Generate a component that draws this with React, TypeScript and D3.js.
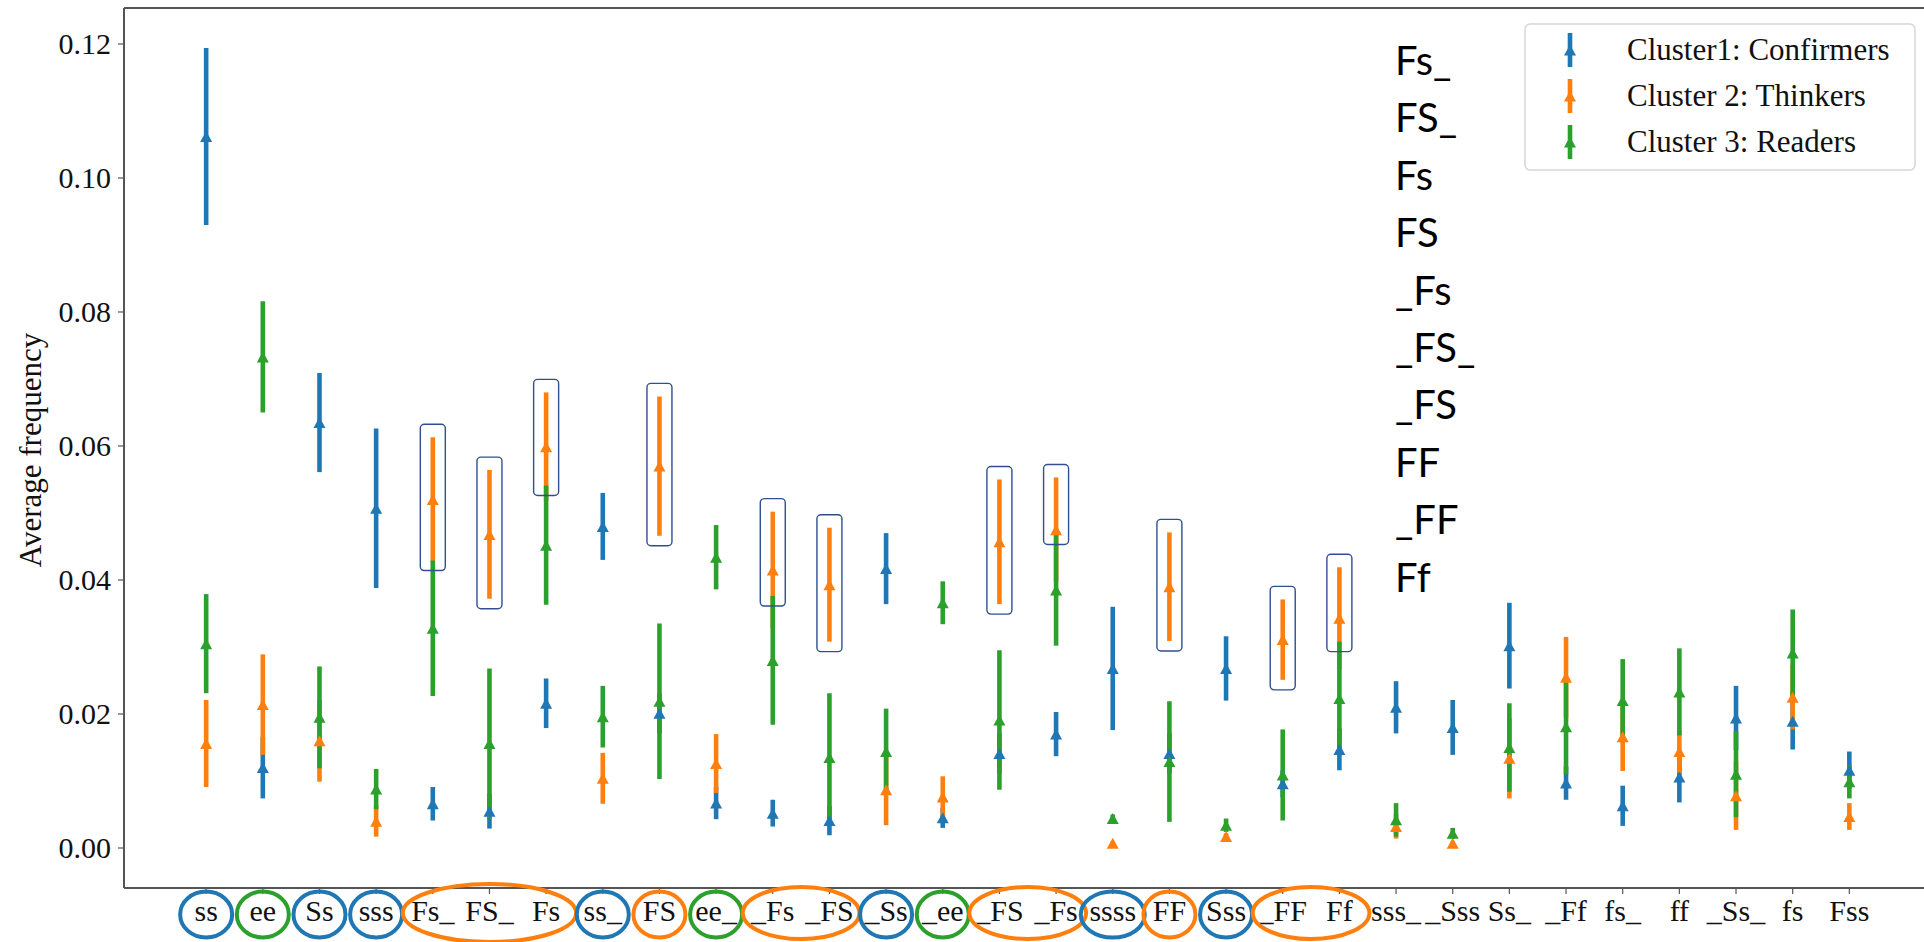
import React from 'react';
import * as d3 from 'd3';

// ---------- data ----------
const categories = ['ss', 'ee', 'Ss', 'sss', 'Fs_', 'FS_', 'Fs', 'ss_', 'FS', 'ee_', '_Fs', '_FS', '_Ss', '_ee', '_FS', '_Fs', 'ssss', 'FF', 'Sss', '_FF', 'Ff', 'sss_', '_Sss', 'Ss_', '_Ff', 'fs_', 'ff', '_Ss_', 'fs', 'Fss'];

const confirmersMean = [0.1062, 0.0120, 0.0635, 0.0507, 0.0066, 0.0055, 0.0216, 0.0480, 0.0201, 0.0067, 0.0052, 0.0041, 0.0417, 0.0045, 0.0141, 0.0170, 0.0268, 0.0141, 0.0268, 0.0096, 0.0147, 0.0210, 0.0180, 0.0302, 0.0097, 0.0063, 0.0106, 0.0194, 0.0189, 0.0116];
const confirmersErr = [0.0132, 0.0046, 0.0074, 0.0119, 0.0025, 0.0026, 0.0037, 0.0050, 0.0030, 0.0024, 0.0020, 0.0022, 0.0053, 0.0015, 0.0030, 0.0033, 0.0092, 0.0030, 0.0048, 0.0020, 0.0031, 0.0039, 0.0041, 0.0064, 0.0025, 0.0030, 0.0038, 0.0048, 0.0042, 0.0028];

const thinkersMean = [0.0156, 0.0214, 0.0160, 0.0040, 0.0520, 0.0468, 0.0599, 0.0104, 0.0570, 0.0126, 0.0415, 0.0393, 0.0087, 0.0076, 0.0457, 0.0475, 0.0007, 0.0390, 0.0017, 0.0311, 0.0343, 0.0032, 0.0007, 0.0134, 0.0255, 0.0166, 0.0144, 0.0078, 0.0225, 0.0047];
const thinkersErr = [0.0065, 0.0075, 0.0061, 0.0023, 0.0093, 0.0096, 0.0081, 0.0038, 0.0104, 0.0044, 0.0087, 0.0085, 0.0053, 0.0031, 0.0093, 0.0078, 0.0003, 0.0081, 0.0005, 0.0060, 0.0076, 0.0018, 0.0003, 0.0060, 0.0060, 0.0051, 0.0032, 0.0051, 0.0048, 0.0020];

const readersMean = [0.0305, 0.0733, 0.0195, 0.0088, 0.0328, 0.0156, 0.0452, 0.0196, 0.0219, 0.0434, 0.0280, 0.0135, 0.0144, 0.0366, 0.0191, 0.0385, 0.0044, 0.0129, 0.0034, 0.0109, 0.0223, 0.0042, 0.0022, 0.0150, 0.0181, 0.0220, 0.0233, 0.0110, 0.0291, 0.0099];
const readersErr = [0.0074, 0.0083, 0.0076, 0.0030, 0.0101, 0.0112, 0.0089, 0.0046, 0.0116, 0.0048, 0.0096, 0.0096, 0.0064, 0.0032, 0.0104, 0.0083, 0.0006, 0.0090, 0.0010, 0.0068, 0.0085, 0.0025, 0.0008, 0.0066, 0.0071, 0.0062, 0.0065, 0.0064, 0.0065, 0.0025];

const seriesNames = ['Cluster1: Confirmers', 'Cluster 2: Thinkers', 'Cluster 3: Readers'];
const seriesColors = ['#1f77b4', '#ff7f0e', '#2ca02c'];

const yTicks = [0.0, 0.02, 0.04, 0.06, 0.08, 0.10, 0.12];
const yLabel = 'Average frequency';

// categories whose Thinkers bar is boxed
const boxedCategories = [4, 5, 6, 8, 10, 11, 14, 15, 17, 19, 20];

// circled tick labels: [first index, last index, colour index]
const circleFirst = [0, 1, 2, 3, 4, 7, 8, 9, 10, 12, 13, 14, 16, 17, 18, 19];
const circleLast = [0, 1, 2, 3, 6, 7, 8, 9, 11, 12, 13, 15, 16, 17, 18, 20];
const circleColor = [0, 2, 0, 0, 1, 0, 1, 2, 1, 0, 2, 1, 0, 1, 0, 1];

const sideNotes = ['Fs_', 'FS_', 'Fs', 'FS', '_Fs', '_FS_', '_FS', 'FF', '_FF', 'Ff'];

// ---------- chart ----------
const W = 1924;
const H = 942;
const SERIF = '"Liberation Serif", "Times New Roman", serif';

export default function App() {
  const x = d3.scaleLinear().domain([-1.45, 30.45]).range([124, 1931.5]);
  const y = d3.scaleLinear().domain([-0.00597, 0.12537]).range([888, 8]);
  const step = x(1) - x(0);
  const fmt = d3.format('.2f');

  const series = [
    { mean: confirmersMean, err: confirmersErr, color: seriesColors[0] },
    { mean: thinkersMean, err: thinkersErr, color: seriesColors[1] },
    { mean: readersMean, err: readersErr, color: seriesColors[2] },
  ];

  const tri = 'M0,-5.5L6,5.5L-6,5.5Z';
  const plotLeft = x.range()[0];
  const plotRight = x.range()[1];
  const plotTop = y.range()[1];
  const plotBottom = y.range()[0];

  return (
    <svg width={W} height={H} style={{ position: 'absolute', left: 0, top: 0, background: '#fff' }}
      xmlns="http://www.w3.org/2000/svg">
      <rect x={0} y={0} width={W} height={H} fill="#fff" />

      {/* error bars: all bar lines first (blue, orange, green) */}
      {series.map((s, si) => (
        <g key={'bars' + si}>
          {categories.map((c, i) => (
            <line key={i} x1={x(i)} x2={x(i)} y1={y(s.mean[i] + s.err[i])} y2={y(s.mean[i] - s.err[i])}
              stroke={s.color} strokeWidth={4.6} />
          ))}
        </g>
      ))}
      {/* markers above all bar lines */}
      {series.map((s, si) => (
        <g key={'marks' + si}>
          {categories.map((c, i) => (
            <path key={i} d={tri} transform={`translate(${x(i)},${y(s.mean[i])})`} fill={s.color} />
          ))}
        </g>
      ))}

      {/* spines */}
      <g stroke="#555" strokeWidth={2} fill="none">
        <line x1={plotLeft} x2={plotLeft} y1={plotTop} y2={plotBottom} />
        <line x1={plotLeft} x2={plotRight} y1={plotTop} y2={plotTop} />
        <line x1={plotLeft} x2={plotRight} y1={plotBottom} y2={plotBottom} />
        <line x1={plotRight} x2={plotRight} y1={plotTop} y2={plotBottom} />
      </g>

      {/* y axis ticks */}
      {yTicks.map((t) => (
        <g key={t}>
          <line x1={plotLeft - 6} x2={plotLeft} y1={y(t)} y2={y(t)} stroke="#555" strokeWidth={1.2} />
          <text x={plotLeft - 13} y={y(t)} dy="0.33em" textAnchor="end" fontFamily={SERIF} fontSize={30} fill="#111">
            {fmt(t)}
          </text>
        </g>
      ))}
      <text transform={`translate(41,${(plotTop + plotBottom) / 2 + 2}) rotate(-90)`} textAnchor="middle"
        fontFamily={SERIF} fontSize={31} fill="#111">{yLabel}</text>

      {/* x axis ticks */}
      {categories.map((c, i) => (
        <g key={i}>
          <line x1={x(i)} x2={x(i)} y1={plotBottom} y2={plotBottom + 6} stroke="#555" strokeWidth={1.2} />
          <text x={x(i)} y={921} textAnchor="middle" fontFamily={SERIF} fontSize={30} fill="#111">{c}</text>
        </g>
      ))}

      {/* boxes around Thinkers bars */}
      {boxedCategories.map((i) => {
        const oHigh = thinkersMean[i] + thinkersErr[i];
        const oLow = thinkersMean[i] - thinkersErr[i];
        const gHigh = readersMean[i] + readersErr[i];
        const visLow = gHigh > oLow && gHigh < oHigh ? gHigh : oLow;
        const top = y(oHigh) - 13;
        const bot = y(visLow) + 10;
        return (
          <rect key={i} x={x(i) - 12.5} y={top} width={25} height={bot - top} rx={4} ry={4}
            fill="none" stroke="#2f4f8f" strokeWidth={1.4} />
        );
      })}

      {/* circled tick labels */}
      {circleFirst.map((f, k) => {
        const l = circleLast[k];
        const cx = (x(f) + x(l)) / 2;
        const single = f === l;
        const rx = single ? 26 + Math.max(0, categories[f].length - 3) * 6 : (x(l) - x(f)) / 2 + 30;
        const ry = single ? 23 : (l - f >= 2 ? 29 : 26);
        const cy = single ? 914.5 : 913;
        return (
          <ellipse key={k} cx={cx} cy={cy} rx={rx} ry={ry} fill="none"
            stroke={seriesColors[circleColor[k]]} strokeWidth={4} />
        );
      })}

      {/* side notes */}
      {sideNotes.map((n, k) => (
        <text key={k} x={1395} y={75 + k * 57.4} fontFamily='Lato, "Noto Sans", sans-serif' fontSize={40} fill="#000">{n}</text>
      ))}

      {/* legend */}
      <g>
        <rect x={1525} y={24} width={390} height={146} rx={5} ry={5} fill="#fff" fillOpacity={0.8}
          stroke="#d6d6d6" strokeWidth={1.5} />
        {seriesNames.map((name, k) => {
          const cy = 50 + k * 46;
          return (
            <g key={k}>
              <line x1={1570} x2={1570} y1={cy - 17} y2={cy + 17} stroke={seriesColors[k]} strokeWidth={4.6} />
              <path d={tri} transform={`translate(1570,${cy})`} fill={seriesColors[k]} />
              <text x={1627} y={cy} dy="0.33em" fontFamily={SERIF} fontSize={31} fill="#111">{name}</text>
            </g>
          );
        })}
      </g>
    </svg>
  );
}
